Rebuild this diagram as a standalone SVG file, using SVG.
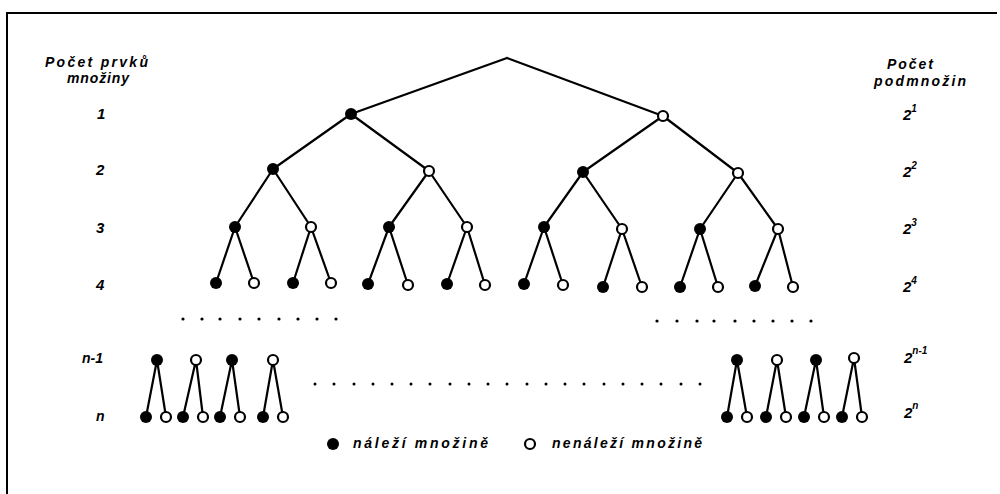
<svg xmlns="http://www.w3.org/2000/svg" width="1000" height="494" viewBox="0 0 1000 494">
<style>
.e{stroke:#000;stroke-width:2.2;fill:none;stroke-linecap:round}
.f{fill:#000}
.o{fill:#fff;stroke:#000;stroke-width:2.2}
.d{fill:#000}
.t{font-family:"Liberation Sans",Arial,sans-serif;font-weight:bold;font-style:italic;font-size:14px;fill:#000}
.n{font-family:"Liberation Sans",Arial,sans-serif;font-weight:bold;font-style:italic;font-size:15px;fill:#000}
.s{font-family:"Liberation Sans",Arial,sans-serif;font-weight:bold;font-style:italic;font-size:10px;fill:#000}
</style>
<rect width="1000" height="494" fill="#fff"/>
<path d="M7,494 V13 H997" stroke="#000" stroke-width="2" fill="none"/>

<g id="labels-left">
<text class="t" x="45" y="67" textLength="103" lengthAdjust="spacing">Počet prvků</text>
<text class="t" x="67" y="83" textLength="62" lengthAdjust="spacing">množiny</text>
<text class="n" x="97" y="119">1</text>
<text class="n" x="96" y="175">2</text>
<text class="n" x="96" y="233">3</text>
<text class="n" x="96" y="290">4</text>
<text class="t" x="82" y="363">n-1</text>
<text class="t" x="96" y="421">n</text>
</g>
<g id="labels-right">
<text class="t" x="887" y="69" textLength="46" lengthAdjust="spacing">Počet</text>
<text class="t" x="874" y="86" textLength="92" lengthAdjust="spacing">podmnožin</text>
<text class="n" x="903" y="120">2<tspan class="s" dy="-8">1</tspan></text>
<text class="n" x="903" y="177">2<tspan class="s" dy="-8">2</tspan></text>
<text class="n" x="903" y="234">2<tspan class="s" dy="-8">3</tspan></text>
<text class="n" x="903" y="292">2<tspan class="s" dy="-8">4</tspan></text>
<text class="n" x="904" y="363">2<tspan class="s" dy="-9">n-1</tspan></text>
<text class="n" x="904" y="418">2<tspan class="s" dy="-9">n</tspan></text>
</g>

<g id="connectors">
<path class="e" d="M507,58 L351,114 M507,58 L663,116
M351,114 L273,169 M351,114 L429,171 M663,116 L583,172 M663,116 L738,173
M273,169 L235,227 M273,169 L311,227 M429,171 L389,227 M429,171 L467,227
M583,172 L544,227 M583,172 L622,229 M738,173 L700,229 M738,173 L778,229
M235,227 L216,283 M235,227 L254,283 M311,227 L293,283 M311,227 L331,283
M389,227 L368,284 M389,227 L408,285 M467,227 L447,284 M467,227 L485,285
M544,227 L524,284 M544,227 L563,285 M622,229 L603,287 M622,229 L642,287
M700,229 L680,287 M700,229 L718,287 M778,229 L755,286 M778,229 L793,287
M157,360 L146,417 M157,360 L166,417 M196,360 L183,417 M196,360 L203,417
M232,360 L220,417 M232,360 L240,417 M273,360 L263,417 M273,360 L283,417
M737,360 L727,417 M737,360 L747,417 M777,360 L766,417 M777,360 L786,417
M816,360 L804,417 M816,360 L824,417 M854,358 L842,417 M854,358 L862,417"/>
</g>

<g id="n1a"><circle class="f" cx="351" cy="114" r="6"/></g>
<g id="n1b"><circle class="o" cx="663" cy="116" r="5"/></g>
<g id="n2a"><circle class="f" cx="273" cy="169" r="6"/></g>
<g id="n2b"><circle class="o" cx="429" cy="171" r="5"/></g>
<g id="n2c"><circle class="f" cx="583" cy="172" r="6"/></g>
<g id="n2d"><circle class="o" cx="738" cy="173" r="5"/></g>
<g id="n3a"><circle class="f" cx="235" cy="227" r="6"/></g>
<g id="n3b"><circle class="o" cx="311" cy="227" r="5"/></g>
<g id="n3c"><circle class="f" cx="389" cy="227" r="6"/></g>
<g id="n3d"><circle class="o" cx="467" cy="227" r="5"/></g>
<g id="n3e"><circle class="f" cx="544" cy="227" r="6"/></g>
<g id="n3f"><circle class="o" cx="622" cy="229" r="5"/></g>
<g id="n3g"><circle class="f" cx="700" cy="229" r="6"/></g>
<g id="n3h"><circle class="o" cx="778" cy="229" r="5"/></g>
<g id="n4a"><circle class="f" cx="216" cy="283" r="6"/></g>
<g id="n4b"><circle class="o" cx="254" cy="283" r="5"/></g>
<g id="n4c"><circle class="f" cx="293" cy="283" r="6"/></g>
<g id="n4d"><circle class="o" cx="331" cy="283" r="5"/></g>
<g id="n4e"><circle class="f" cx="368" cy="284" r="6"/></g>
<g id="n4f"><circle class="o" cx="408" cy="285" r="5"/></g>
<g id="n4g"><circle class="f" cx="447" cy="284" r="6"/></g>
<g id="n4h"><circle class="o" cx="485" cy="285" r="5"/></g>
<g id="n4i"><circle class="f" cx="524" cy="284" r="6"/></g>
<g id="n4j"><circle class="o" cx="563" cy="285" r="5"/></g>
<g id="n4k"><circle class="f" cx="603" cy="287" r="6"/></g>
<g id="n4l"><circle class="o" cx="642" cy="287" r="5"/></g>
<g id="n4m"><circle class="f" cx="680" cy="287" r="6"/></g>
<g id="n4n"><circle class="o" cx="718" cy="287" r="5"/></g>
<g id="n4o"><circle class="f" cx="755" cy="286" r="6"/></g>
<g id="n4p"><circle class="o" cx="793" cy="287" r="5"/></g>

<g id="lm1a"><circle class="f" cx="157" cy="360" r="6"/></g>
<g id="lm1b"><circle class="o" cx="196" cy="360" r="5"/></g>
<g id="lm1c"><circle class="f" cx="232" cy="360" r="6"/></g>
<g id="lm1d"><circle class="o" cx="273" cy="360" r="5"/></g>
<g id="lna"><circle class="f" cx="146" cy="417" r="6"/></g>
<g id="lnb"><circle class="o" cx="166" cy="417" r="5"/></g>
<g id="lnc"><circle class="f" cx="183" cy="417" r="6"/></g>
<g id="lnd"><circle class="o" cx="203" cy="417" r="5"/></g>
<g id="lne"><circle class="f" cx="220" cy="417" r="6"/></g>
<g id="lnf"><circle class="o" cx="240" cy="417" r="5"/></g>
<g id="lng"><circle class="f" cx="263" cy="417" r="6"/></g>
<g id="lnh"><circle class="o" cx="283" cy="417" r="5"/></g>

<g id="rm1a"><circle class="f" cx="737" cy="360" r="6"/></g>
<g id="rm1b"><circle class="o" cx="777" cy="360" r="5"/></g>
<g id="rm1c"><circle class="f" cx="816" cy="360" r="6"/></g>
<g id="rm1d"><circle class="o" cx="854" cy="358" r="5"/></g>
<g id="rna"><circle class="f" cx="727" cy="417" r="6"/></g>
<g id="rnb"><circle class="o" cx="747" cy="417" r="5"/></g>
<g id="rnc"><circle class="f" cx="766" cy="417" r="6"/></g>
<g id="rnd"><circle class="o" cx="786" cy="417" r="5"/></g>
<g id="rne"><circle class="f" cx="804" cy="417" r="6"/></g>
<g id="rnf"><circle class="o" cx="824" cy="417" r="5"/></g>
<g id="rng"><circle class="f" cx="842" cy="417" r="6"/></g>
<g id="rnh"><circle class="o" cx="862" cy="417" r="5"/></g>

<g id="dots">
<g class="d">
<circle cx="183" cy="319" r="1.6"/><circle cx="202" cy="319" r="1.6"/><circle cx="220" cy="319" r="1.6"/><circle cx="240" cy="319" r="1.6"/><circle cx="259" cy="319" r="1.6"/><circle cx="279" cy="319" r="1.6"/><circle cx="298" cy="319" r="1.6"/><circle cx="317" cy="319" r="1.6"/><circle cx="336" cy="319" r="1.6"/>
<circle cx="657" cy="321" r="1.6"/><circle cx="677" cy="321" r="1.6"/><circle cx="697" cy="321" r="1.6"/><circle cx="714" cy="321" r="1.6"/><circle cx="735" cy="321" r="1.6"/><circle cx="754" cy="321" r="1.6"/><circle cx="773" cy="321" r="1.6"/><circle cx="792" cy="321" r="1.6"/><circle cx="811" cy="321" r="1.6"/>
<circle cx="315" cy="384" r="1.5"/><circle cx="334" cy="384" r="1.5"/><circle cx="354" cy="384" r="1.5"/><circle cx="373" cy="384" r="1.5"/><circle cx="392" cy="384" r="1.5"/><circle cx="411" cy="384" r="1.5"/><circle cx="430" cy="384" r="1.5"/><circle cx="450" cy="384" r="1.5"/><circle cx="469" cy="384" r="1.5"/><circle cx="488" cy="384" r="1.5"/><circle cx="507" cy="384" r="1.5"/><circle cx="527" cy="384" r="1.5"/><circle cx="546" cy="384" r="1.5"/><circle cx="565" cy="384" r="1.5"/><circle cx="584" cy="384" r="1.5"/><circle cx="604" cy="384" r="1.5"/><circle cx="623" cy="384" r="1.5"/><circle cx="642" cy="384" r="1.5"/><circle cx="661" cy="384" r="1.5"/><circle cx="681" cy="384" r="1.5"/><circle cx="700" cy="384" r="1.5"/>
</g>
</g>

<g id="legend">
<circle class="f" cx="333" cy="444" r="6"/>
<text class="t" x="353" y="448" textLength="135" lengthAdjust="spacing">náleží množině</text>
<circle class="o" cx="530" cy="444" r="5"/>
<text class="t" x="552" y="448" textLength="150" lengthAdjust="spacing">nenáleží množině</text>
</g>
</svg>
